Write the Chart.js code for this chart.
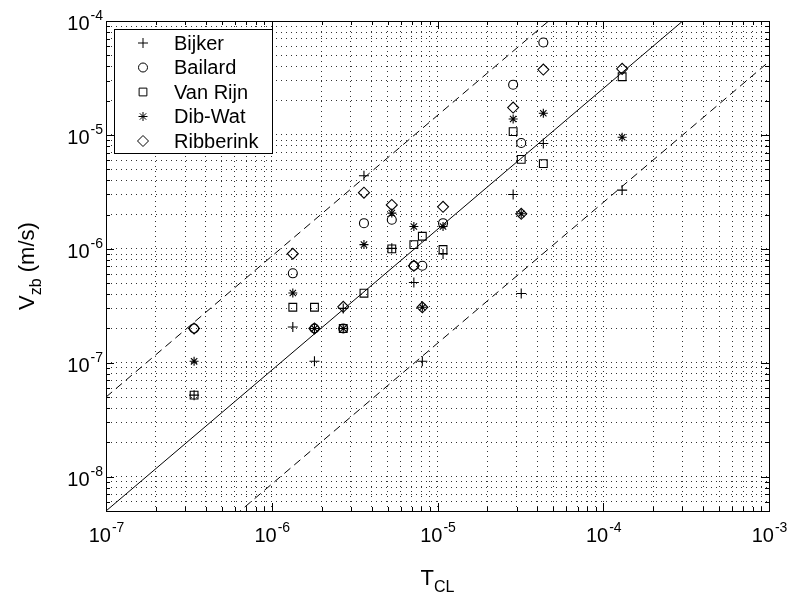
<!DOCTYPE html>
<html>
<head>
<meta charset="utf-8">
<script src="https://cdn.jsdelivr.net/npm/chart.js@4.4.1/dist/chart.umd.min.js"></script>
<style>
  html, body { margin: 0; padding: 0; background: #fff; }
  #wrap { width: 789px; height: 600px; }
</style>
</head>
<body>
<div id="wrap"><canvas id="chart" width="789" height="600"></canvas></div>
<script>
"use strict";

// T_CL of each test case, shared by all five transport models
var tcl = [3.4e-7, 1.34e-6, 1.81e-6, 2.7e-6, 3.6e-6, 5.3e-6, 7.2e-6, 8.1e-6, 1.08e-5, 2.86e-5, 3.2e-5, 4.35e-5, 1.3e-4];

// predicted V_zb (m/s) per model, same order as tcl
var bijker    = [5.2e-8, 2.06e-7, 1.03e-7, 3.0e-7, 4.38e-6, 1.01e-6, 5.06e-7, 1.03e-7, 9.0e-7, 3.0e-6, 4.06e-7, 8.4e-6, 3.28e-6];
var bailard   = [2.0e-7, 6.1e-7, 2.0e-7, 2.0e-7, 1.68e-6, 1.8e-6, 7.1e-7, 7.1e-7, 1.68e-6, 2.76e-5, 8.5e-6, 6.47e-5, null];
var vanRijn   = [5.2e-8, 3.07e-7, 3.07e-7, 2.0e-7, 4.08e-7, 1.0e-6, 1.09e-6, 1.29e-6, 9.86e-7, 1.07e-5, 6.1e-6, 5.6e-6, 3.24e-5];
var dibWat    = [1.03e-7, 4.1e-7, 2.0e-7, 2.0e-7, 1.09e-6, 2.06e-6, 1.57e-6, 3.07e-7, 1.57e-6, 1.38e-5, 2.03e-6, 1.55e-5, 9.55e-6];
var ribberink = [2.0e-7, 9.06e-7, 2.0e-7, 3.1e-7, 3.11e-6, 2.43e-6, 7.1e-7, 3.07e-7, 2.34e-6, 1.74e-5, 2.03e-6, 3.75e-5, 3.8e-5];

var seriesNames = ['Bijker', 'Bailard', 'Van Rijn', 'Dib-Wat', 'Ribberink'];
var seriesValues = [bijker, bailard, vanRijn, dibWat, ribberink];

// reference lines: agreement line and factor 10 band, end points
var lineX = [1e-7, 1e-3];
var agreeY = [5e-9, 4.4e-4];
var upperY = [5e-8, 4.4e-3];
var lowerY = [5e-10, 4.4e-5];

// axis decades (labels are 10^n) and the minor steps inside each decade
var xExponents = [-7, -6, -5, -4, -3];
var yExponents = [-9, -8, -7, -6, -5, -4];
var minorSteps = [1, 2, 3, 4, 5, 6, 7, 8, 9];

var X_MIN = 1e-7, X_MAX = 1e-3, Y_MIN = 5e-9, Y_MAX = 1e-4;

var markerStyle = {
  'Bijker':    { pointStyle: 'cross',   radius: 5 },
  'Bailard':   { pointStyle: 'circle',  radius: 4.5 },
  'Van Rijn':  { pointStyle: 'rect',    radius: 5.5 },
  'Dib-Wat':   { pointStyle: 'star',    radius: 4.5 },
  'Ribberink': { pointStyle: 'rectRot', radius: 5.5 }
};

function buildTicks(exponents, min, max) {
  var ticks = [];
  exponents.forEach(function(e) {
    minorSteps.forEach(function(m) {
      var v = m * Math.pow(10, e);
      if (v >= min * 0.999 && v <= max * 1.001) {
        ticks.push({ value: v, major: m === 1, exponent: e });
      }
    });
  });
  return ticks;
}

var xTicks = buildTicks(xExponents, X_MIN, X_MAX);
var yTicks = buildTicks(yExponents, Y_MIN, Y_MAX);

function pairs(xs, ys) {
  var out = [];
  for (var i = 0; i < xs.length; ++i) {
    if (ys[i] !== null) out.push({ x: xs[i], y: ys[i] });
  }
  return out;
}

var datasets = [];
seriesNames.forEach(function(name, i) {
  var st = markerStyle[name];
  datasets.push({
    label: name,
    data: pairs(tcl, seriesValues[i]),
    pointStyle: st.pointStyle,
    pointRadius: st.radius,
    pointHoverRadius: st.radius,
    pointBorderWidth: 1.1,
    pointBorderColor: '#000',
    pointBackgroundColor: 'rgba(0,0,0,0)',
    showLine: false
  });
});

function refLine(ys, dash) {
  return {
    label: '',
    data: pairs(lineX, ys),
    showLine: true,
    borderColor: '#000',
    borderWidth: 1,
    borderDash: dash,
    pointRadius: 0,
    pointHoverRadius: 0,
    fill: false
  };
}
datasets.push(refLine(agreeY, []));
datasets.push(refLine(upperY, [8, 5]));
datasets.push(refLine(lowerY, [8, 5]));

var FONT = '"Liberation Sans", Arial, Helvetica, sans-serif';

function font(size) {
  return size + 'px ' + FONT;
}

// draws "10" with a raised exponent; anchor is 'center' or 'right'
function drawPower(ctx, exp, x, y, anchor) {
  var base = '10', sup = '-' + Math.abs(exp);
  ctx.font = font(20);
  var wb = ctx.measureText(base).width;
  ctx.font = font(14);
  var ws = ctx.measureText(sup).width;
  var start = anchor === 'center' ? x - (wb + ws) / 2 : x - wb - ws;
  ctx.textAlign = 'left';
  ctx.textBaseline = 'alphabetic';
  ctx.font = font(20);
  ctx.fillText(base, start, y);
  ctx.font = font(14);
  ctx.fillText(sup, start + wb + 1, y - 10);
}

// main text followed by a lowered subscript and an optional tail, centred on x
function drawSubscripted(ctx, main, sub, tail, x, y) {
  ctx.font = font(22);
  var wm = ctx.measureText(main).width;
  var wt = ctx.measureText(tail).width;
  ctx.font = font(16);
  var ws = ctx.measureText(sub).width;
  var start = x - (wm + ws + wt) / 2;
  ctx.textAlign = 'left';
  ctx.textBaseline = 'alphabetic';
  ctx.font = font(22);
  ctx.fillText(main, start, y);
  ctx.font = font(16);
  ctx.fillText(sub, start + wm, y + 7);
  ctx.font = font(22);
  ctx.fillText(tail, start + wm + ws, y);
}

var matlabAxes = {
  id: 'matlabAxes',
  afterDraw: function(chart) {
    var ctx = chart.ctx;
    var area = chart.chartArea;
    var xs = chart.scales.x, ys = chart.scales.y;
    ctx.save();
    ctx.strokeStyle = '#000';
    ctx.fillStyle = '#000';
    ctx.lineWidth = 1;
    ctx.setLineDash([]);

    // inward tick marks on all four sides
    ctx.beginPath();
    xTicks.forEach(function(t) {
      var px = Math.round(xs.getPixelForValue(t.value)) + 0.5;
      var len = t.major ? 8 : 4;
      ctx.moveTo(px, area.bottom); ctx.lineTo(px, area.bottom - len);
      ctx.moveTo(px, area.top); ctx.lineTo(px, area.top + len);
    });
    yTicks.forEach(function(t) {
      var py = Math.round(ys.getPixelForValue(t.value)) + 0.5;
      var len = t.major ? 8 : 4;
      ctx.moveTo(area.left, py); ctx.lineTo(area.left + len, py);
      ctx.moveTo(area.right, py); ctx.lineTo(area.right - len, py);
    });
    ctx.stroke();

    ctx.strokeRect(Math.round(area.left) + 0.5, Math.round(area.top) + 0.5,
      Math.round(area.right - area.left), Math.round(area.bottom - area.top));

    // decade labels
    xTicks.forEach(function(t) {
      if (t.major) drawPower(ctx, t.exponent, xs.getPixelForValue(t.value), area.bottom + 31, 'center');
    });
    yTicks.forEach(function(t) {
      if (t.major) drawPower(ctx, t.exponent, area.left - 4, ys.getPixelForValue(t.value) + 9, 'right');
    });

    // axis titles
    drawSubscripted(ctx, 'T', 'CL', '', (area.left + area.right) / 2, 585);
    ctx.save();
    ctx.translate(34, (area.top + area.bottom) / 2);
    ctx.rotate(-Math.PI / 2);
    drawSubscripted(ctx, 'V', 'zb', ' (m/s)', 0, 0);
    ctx.restore();

    // legend box in the upper left corner
    var lx = 114, ly = 29, lw = 158, lh = 124;
    ctx.fillStyle = '#fff';
    ctx.fillRect(lx, ly, lw, lh);
    ctx.strokeRect(lx + 0.5, ly + 0.5, lw, lh);
    ctx.fillStyle = '#000';
    ctx.font = font(20);
    ctx.textAlign = 'left';
    ctx.textBaseline = 'middle';
    seriesNames.forEach(function(name, i) {
      var cy = ly + 14 + i * 24.5;
      var st = markerStyle[name];
      ctx.fillStyle = 'rgba(0,0,0,0)';
      Chart.helpers.drawPoint(ctx, {
        pointStyle: st.pointStyle, radius: st.radius, rotation: 0, borderWidth: 1
      }, lx + 29, cy);
      ctx.fillStyle = '#000';
      ctx.fillText(name, lx + 60, cy + 1);
    });
    ctx.restore();
  }
};

function axisOptions(min, max, ticks) {
  return {
    type: 'logarithmic',
    min: min,
    max: max,
    afterBuildTicks: function(scale) {
      scale.ticks = ticks.map(function(t) { return { value: t.value, major: t.major }; });
    },
    ticks: { display: false, autoSkip: false },
    grid: {
      display: true,
      drawTicks: false,
      color: '#333',
      lineWidth: 1
    },
    border: { display: false, dash: [1, 4] }
  };
}

new Chart(document.getElementById('chart'), {
  type: 'scatter',
  data: { datasets: datasets },
  options: {
    responsive: false,
    animation: false,
    devicePixelRatio: 1,
    layout: { padding: { left: 106, right: 20, top: 21, bottom: 89 } },
    plugins: {
      legend: { display: false },
      tooltip: { enabled: false }
    },
    scales: {
      x: axisOptions(X_MIN, X_MAX, xTicks),
      y: axisOptions(Y_MIN, Y_MAX, yTicks)
    }
  },
  plugins: [matlabAxes]
});
</script>
</body>
</html>
